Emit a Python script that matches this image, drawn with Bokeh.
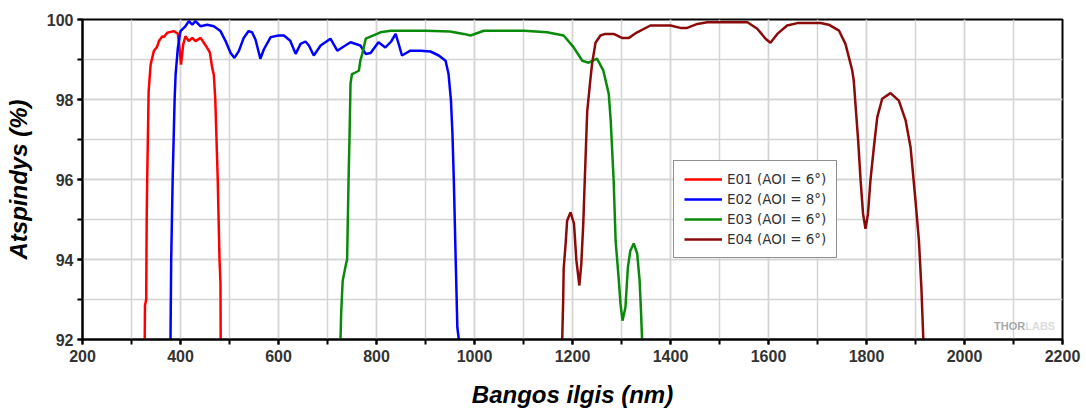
from bokeh.plotting import figure
from bokeh.models import SingleIntervalTicker, Range1d, Legend, LegendItem, Label
from bokeh.embed import file_html
from bokeh.resources import INLINE

# ---- data ----
e01_wl = [327, 327.5, 330, 331, 332, 335, 339, 345.6, 352, 356, 363, 366, 373, 386, 394.6, 398.6, 401,
          405.5, 410, 417, 424, 430.6, 441, 447.6, 454.5, 460, 464.7, 468, 471, 476, 479.6, 481.6, 482]
e01_r = [92, 92.85, 93.0, 95.0, 96.0, 98.2, 98.87, 99.21, 99.31, 99.46, 99.58, 99.56, 99.67, 99.71, 99.65,
         99.21, 98.87, 99.37, 99.58, 99.46, 99.54, 99.46, 99.54, 99.42, 99.29, 99.17, 98.79, 98.62, 98.0,
         96.0, 94.0, 93.4, 92.0]

e02_wl = [379.6, 381, 384, 388, 390, 394.6, 400, 410, 417, 424, 430.6, 441, 454.5, 468, 481.6, 492, 502,
          510, 519, 529, 539, 546, 553, 563, 570, 584, 600, 611, 624, 635, 645, 655, 662, 672, 686, 706,
          720, 730, 747, 767, 778, 788, 804, 818, 830, 839, 845, 852, 869, 890, 910, 927, 941, 947, 952,
          955, 958, 961, 965, 968]
e02_r = [92, 94, 96, 98, 98.62, 99.29, 99.71, 99.83, 99.96, 99.87, 99.96, 99.83, 99.87, 99.83, 99.71, 99.46,
         99.17, 99.04, 99.21, 99.54, 99.71, 99.68, 99.5, 99.02, 99.25, 99.56, 99.6, 99.6, 99.47, 99.14,
         99.39, 99.45, 99.35, 99.1, 99.35, 99.52, 99.22, 99.3, 99.43, 99.35, 99.14, 99.16, 99.43, 99.3,
         99.45, 99.64, 99.4, 99.1, 99.22, 99.22, 99.2, 99.1, 98.97, 98.64, 97.97, 97.14, 95.89, 94.3,
         92.3, 92.0]

e03_wl = [726.5, 728, 731, 738, 740, 743, 745, 747, 750, 753, 761, 764, 767, 771, 778, 801, 808, 829, 842,
          900, 950, 978, 992, 1019, 1101, 1148, 1182, 1202, 1220, 1233, 1250, 1263, 1274, 1278, 1284,
          1288, 1294, 1298, 1302, 1308, 1313, 1318, 1325, 1332, 1337, 1340, 1342]
e03_r = [92, 92.7, 93.47, 93.9, 94.0, 96.0, 97.1, 98.4, 98.64, 98.65, 98.7, 98.72, 98.97, 99.14, 99.52,
         99.64, 99.68, 99.72, 99.72, 99.72, 99.7, 99.64, 99.6, 99.72, 99.72, 99.68, 99.6, 99.31, 98.97,
         98.92, 99.02, 98.72, 98.14, 97.47, 95.97, 94.47, 93.56, 92.89, 92.47, 92.8, 93.8, 94.22, 94.4,
         94.15, 93.47, 92.64, 92.0]

e04_wl = [1179, 1181, 1182, 1186, 1189, 1196, 1203, 1208, 1214, 1218, 1222, 1225, 1230, 1237, 1240, 1247,
          1257, 1267, 1284, 1301, 1315, 1332, 1359, 1400, 1420, 1434, 1455, 1475, 1557, 1577, 1594, 1604,
          1618, 1638, 1659, 1706, 1723, 1744, 1757, 1764, 1771, 1774, 1778, 1783, 1788, 1793, 1798, 1803,
          1808, 1815, 1822, 1832, 1849, 1866, 1880, 1890, 1900, 1907, 1912, 1916]
e04_r = [92.0, 93.0, 93.77, 94.4, 94.97, 95.18, 94.9, 93.97, 93.35, 93.9, 94.9, 95.97, 97.7, 98.56, 98.9,
         99.42, 99.6, 99.64, 99.64, 99.54, 99.54, 99.68, 99.85, 99.85, 99.79, 99.79, 99.89, 99.93, 99.93,
         99.77, 99.52, 99.42, 99.64, 99.85, 99.91, 99.91, 99.87, 99.72, 99.39, 99.06, 98.72, 98.47, 97.8,
         96.97, 95.97, 95.14, 94.77, 95.14, 95.97, 96.8, 97.56, 98.02, 98.16, 97.97, 97.47, 96.8, 95.47,
         94.47, 93.3, 92.0]

series_names = ["E01 (AOI = 6°)", "E02 (AOI = 8°)", "E03 (AOI = 6°)", "E04 (AOI = 6°)"]
series_colors = ["#ff0000", "#0000ff", "#0a8a0a", "#8b0a0a"]

x_label = "Bangos ilgis (nm)"
y_label = "Atspindys (%)"

FONT = "Liberation Sans"

p = figure(width=1086, height=412, output_backend="svg", toolbar_location=None,
           x_range=Range1d(200, 2200), y_range=Range1d(92, 100),
           min_border_left=82, min_border_right=24, min_border_top=19, min_border_bottom=73)
p.background_fill_color = "white"
p.border_fill_color = "white"
p.outline_line_color = "black"
p.outline_line_width = 2

p.xaxis.ticker = SingleIntervalTicker(interval=200, num_minor_ticks=2)
p.yaxis.ticker = SingleIntervalTicker(interval=2, num_minor_ticks=2)

for ax in (p.xaxis[0], p.yaxis[0]):
    ax.axis_line_color = "black"
    ax.axis_line_width = 2
    ax.major_tick_line_color = "black"
    ax.major_tick_line_width = 2
    ax.minor_tick_line_color = "black"
    ax.minor_tick_line_width = 2
    ax.major_tick_in = 0
    ax.major_tick_out = 5
    ax.minor_tick_in = 0
    ax.minor_tick_out = 5
    ax.major_label_text_font = FONT
    ax.major_label_text_font_style = "bold"
    ax.major_label_text_font_size = "16px"
    ax.major_label_text_color = "#333333"
    ax.axis_label_text_font = FONT
    ax.axis_label_text_font_style = "bold italic"
    ax.axis_label_text_font_size = "24px"
    ax.axis_label_text_color = "black"

p.xaxis.axis_label = x_label
p.yaxis.axis_label = y_label
p.xaxis.major_label_standoff = 5
p.xaxis.axis_label_standoff = 16
p.yaxis.major_label_standoff = 4
p.yaxis.axis_label_standoff = 12

for g in (p.xgrid[0], p.ygrid[0]):
    g.grid_line_color = "#d4d4d4"
    g.grid_line_width = 1.5
    g.minor_grid_line_color = "#d4d4d4"
    g.minor_grid_line_width = 1.5

items = []
for wl, r, name, col in zip([e01_wl, e02_wl, e03_wl, e04_wl], [e01_r, e02_r, e03_r, e04_r],
                            series_names, series_colors):
    rend = p.line(wl, r, line_color=col, line_width=2.5)
    items.append(LegendItem(label=name, renderers=[rend]))

legend = Legend(items=items, location=(591, 81))
legend.label_text_font = "DejaVu Sans"
legend.label_text_font_size = "13.5px"
legend.label_text_color = "#333333"
legend.border_line_color = "#222222"
legend.border_line_width = 1
legend.background_fill_color = "white"
legend.background_fill_alpha = 1
legend.glyph_width = 38
legend.glyph_height = 14
legend.label_height = 14
legend.spacing = 4
legend.padding = 10
legend.margin = 0
legend.label_standoff = 5
p.add_layout(legend, "center")

p.add_layout(Label(x=2124, y=92.35, text="THOR", text_font=FONT, text_font_style="bold",
                   text_font_size="11px", text_color="#a8a8a8", text_baseline="middle",
                   text_align="right"))
p.add_layout(Label(x=2124, y=92.35, text="LABS", text_font=FONT, text_font_style="bold",
                   text_font_size="11px", text_color="#dcdcdc", text_baseline="middle",
                   text_align="left"))

open("out.html", "w").write(file_html(p, INLINE))
